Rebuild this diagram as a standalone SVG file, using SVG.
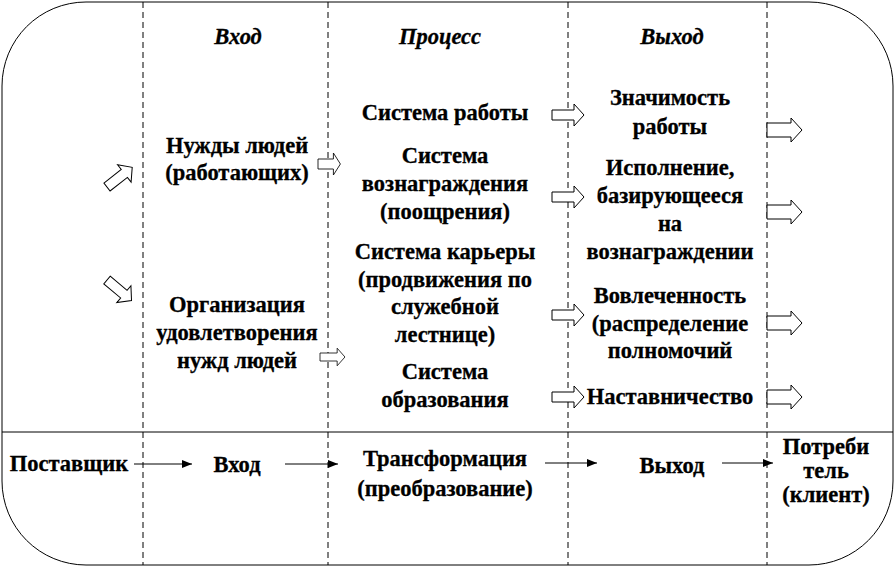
<svg xmlns="http://www.w3.org/2000/svg" width="895" height="566" viewBox="0 0 895 566">
<defs>
<style>
.t{font-weight:bold;font-size:22.5px;fill:#000;stroke:#000;stroke-width:0.3;text-anchor:middle}
.h{font-style:italic}
.dash{stroke:#000;stroke-width:1;stroke-dasharray:6,4;fill:none}
.ba{fill:#fff;stroke:#000;stroke-width:1}
.ln{stroke:#000;stroke-width:1;fill:none}
</style>
<path id="ba" d="M0,-5 H22 V-11 L32,0 L22,11 V5 H0 Z"/>
<path id="bb" d="M0,-7 H24 V-12 L35,0 L24,12 V7 H0 Z"/>
<marker id="ah" viewBox="0 0 10 8" refX="10" refY="4" markerWidth="10" markerHeight="8" markerUnits="userSpaceOnUse" orient="auto">
<path d="M0,0 L10,4 L0,8 Z" fill="#000"/>
</marker>
</defs>
<g id="frame">
<rect x="2" y="2" width="891" height="563" rx="84" ry="84" fill="#fff" stroke="#000" stroke-width="1"/>
<line class="ln" x1="2" y1="432" x2="893" y2="432"/>
<line class="dash" x1="143" y1="2" x2="143" y2="565"/>
<line class="dash" x1="328" y1="2" x2="328" y2="565"/>
<line class="dash" x1="568" y1="2" x2="568" y2="565"/>
<line class="dash" x1="767" y1="2" x2="767" y2="565"/>
</g>
<g id="headers">
<text class="t h" font-family="Liberation Serif, serif" x="238" y="44">Вход</text>
<text class="t h" font-family="Liberation Serif, serif" x="440" y="44">Процесс</text>
<text class="t h" font-family="Liberation Serif, serif" x="672" y="44">Выход</text>
</g>
<g id="n-needs"><text class="t" font-family="Liberation Serif, serif" x="237" y="153">Нужды людей</text><text class="t" font-family="Liberation Serif, serif" x="237" y="180">(работающих)</text></g>
<g id="n-org"><text class="t" font-family="Liberation Serif, serif" x="237" y="312">Организация</text><text class="t" font-family="Liberation Serif, serif" x="237" y="340">удовлетворения</text><text class="t" font-family="Liberation Serif, serif" x="237" y="368">нужд людей</text></g>
<g id="n-sys-work"><text class="t" font-family="Liberation Serif, serif" x="445" y="120">Система работы</text></g>
<g id="n-sys-reward"><text class="t" font-family="Liberation Serif, serif" x="445" y="163">Система</text><text class="t" font-family="Liberation Serif, serif" x="445" y="191">вознаграждения</text><text class="t" font-family="Liberation Serif, serif" x="445" y="219">(поощрения)</text></g>
<g id="n-sys-career"><text class="t" font-family="Liberation Serif, serif" x="445" y="259">Система карьеры</text><text class="t" font-family="Liberation Serif, serif" x="445" y="287">(продвижения по</text><text class="t" font-family="Liberation Serif, serif" x="445" y="314">служебной</text><text class="t" font-family="Liberation Serif, serif" x="445" y="342">лестнице)</text></g>
<g id="n-sys-edu"><text class="t" font-family="Liberation Serif, serif" x="445" y="379">Система</text><text class="t" font-family="Liberation Serif, serif" x="445" y="407">образования</text></g>
<g id="n-significance"><text class="t" font-family="Liberation Serif, serif" x="670" y="105">Значимость</text><text class="t" font-family="Liberation Serif, serif" x="670" y="134">работы</text></g>
<g id="n-performance"><text class="t" font-family="Liberation Serif, serif" x="670" y="175">Исполнение,</text><text class="t" font-family="Liberation Serif, serif" x="670" y="203">базирующееся</text><text class="t" font-family="Liberation Serif, serif" x="670" y="231">на</text><text class="t" font-family="Liberation Serif, serif" x="670" y="259">вознаграждении</text></g>
<g id="n-involvement"><text class="t" font-family="Liberation Serif, serif" x="670" y="303">Вовлеченность</text><text class="t" font-family="Liberation Serif, serif" x="670" y="331">(распределение</text><text class="t" font-family="Liberation Serif, serif" x="670" y="358">полномочий</text></g>
<g id="n-mentoring"><text class="t" font-family="Liberation Serif, serif" x="670" y="404">Наставничество</text></g>
<g id="n-supplier"><text class="t" font-family="Liberation Serif, serif" x="69" y="471">Поставщик</text></g>
<g id="n-input"><text class="t" font-family="Liberation Serif, serif" x="237" y="472">Вход</text></g>
<g id="n-transform"><text class="t" font-family="Liberation Serif, serif" x="445" y="466">Трансформация</text><text class="t" font-family="Liberation Serif, serif" x="445" y="496">(преобразование)</text></g>
<g id="n-output"><text class="t" font-family="Liberation Serif, serif" x="672" y="473">Выход</text></g>
<g id="n-consumer"><text class="t" font-family="Liberation Serif, serif" x="826" y="454">Потреби</text><text class="t" font-family="Liberation Serif, serif" x="826" y="478">тель</text><text class="t" font-family="Liberation Serif, serif" x="826" y="502">(клиент)</text></g>
<g id="connectors">
<use href="#ba" class="ba" transform="translate(107,187) rotate(-38)"/>
<use href="#ba" class="ba" transform="translate(107,280) rotate(40)"/>
<use href="#ba" class="ba" transform="translate(318,164) scale(0.7,1)"/>
<use href="#ba" class="ba" transform="translate(320,357) scale(0.78,0.8)"/>
<use href="#ba" class="ba" transform="translate(552,115)"/>
<use href="#ba" class="ba" transform="translate(552,197)"/>
<use href="#ba" class="ba" transform="translate(552,315)"/>
<use href="#ba" class="ba" transform="translate(552,397)"/>
<use href="#bb" class="ba" transform="translate(767,130)"/>
<use href="#bb" class="ba" transform="translate(767,212)"/>
<use href="#bb" class="ba" transform="translate(767,323)"/>
<use href="#bb" class="ba" transform="translate(767,397)"/>
<line class="ln" x1="134" y1="464" x2="192" y2="464" marker-end="url(#ah)"/>
<line class="ln" x1="285" y1="464" x2="338" y2="464" marker-end="url(#ah)"/>
<line class="ln" x1="545" y1="463" x2="597" y2="463" marker-end="url(#ah)"/>
<line class="ln" x1="722" y1="463" x2="773" y2="463" marker-end="url(#ah)"/>
</g>
</svg>
